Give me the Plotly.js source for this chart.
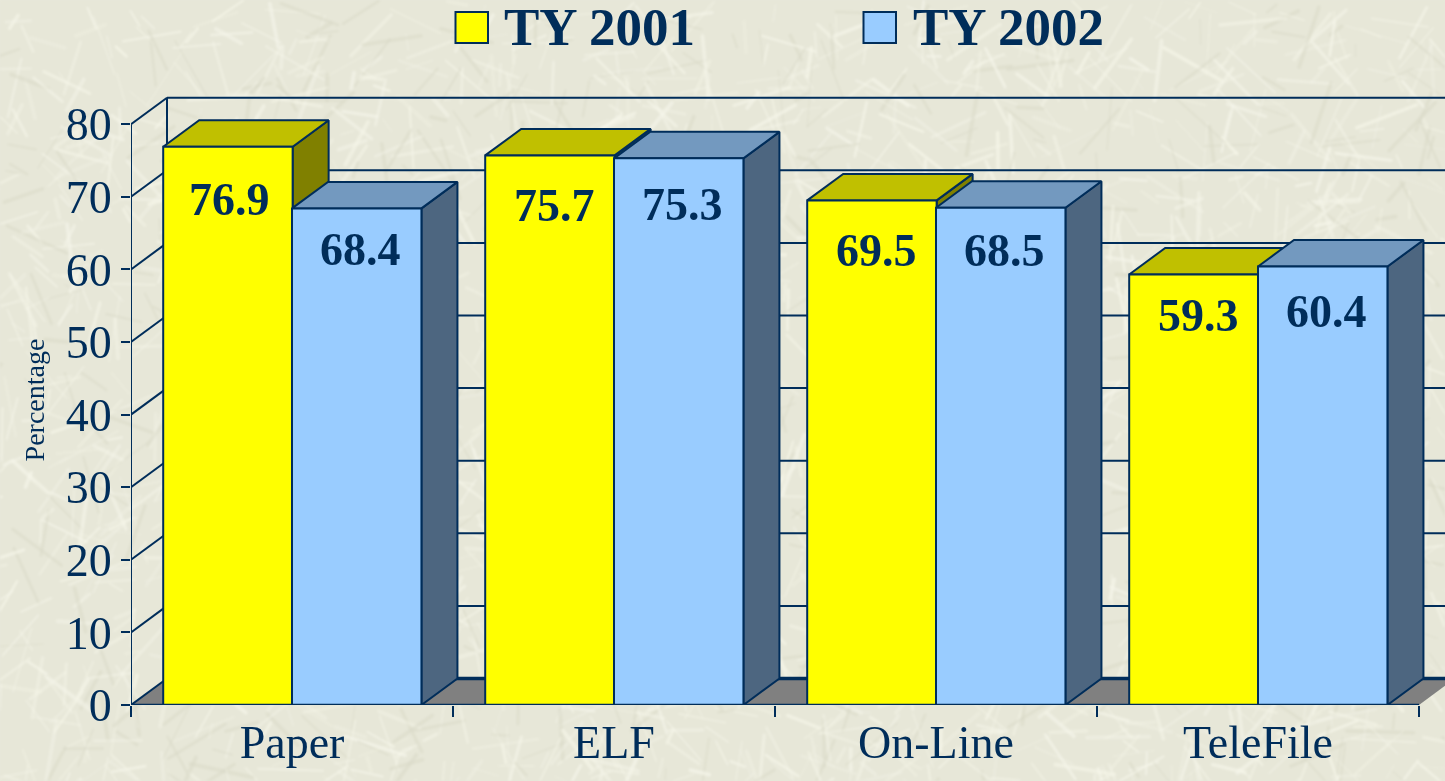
<!DOCTYPE html>
<html>
<head>
<meta charset="utf-8">
<script src="https://cdn.plot.ly/plotly-3.0.1.min.js"></script>
<style>
html,body{margin:0;padding:0;width:1445px;height:781px;overflow:hidden;background:#E8E8DA}
#tex{position:absolute;left:0;top:0;filter:blur(0.8px)}
#chart{position:absolute;left:0;top:0;width:1445px;height:781px}
</style>
</head>
<body>
<canvas id="tex" width="1445" height="781"></canvas>
<div id="chart"></div>
<script>
// ---- chart values ----
const categories = ["Paper", "ELF", "On-Line", "TeleFile"];
const ty2001 = [76.9, 75.7, 69.5, 59.3];
const ty2002 = [68.4, 75.3, 68.5, 60.4];
const yTicks = [0, 10, 20, 30, 40, 50, 60, 70, 80];
const seriesNames = ["TY 2001", "TY 2002"];

// ---- styling / layout settings ----
const NAVY = "#002D5A";
const SERIF = '"Liberation Serif","Times New Roman",serif';
const W = 1445, H = 781;
const M = {l:131, r:0, t:95, b:76};
const pxPerCat = 322, pxPerUnit = 7.26;
const depthX = 36 / pxPerCat, depthY = 26.5 / pxPerUnit;
const xMax = (W - M.l) / pxPerCat;
const yMax = (H - M.t - M.b) / pxPerUnit;
const barW = 0.402;
const labelDrop2001 = [53, 50, 50, 41];
const labelDrop2002 = [41, 46, 43, 45];
const labelShift2001 = [1.5, 5, 5, 5];
const labelShift2002 = [4, 3.5, 4, 4];

// ---- paper-fibre background ----
(function(){
  const c = document.getElementById("tex").getContext("2d");
  c.fillStyle = "#E7E7D8"; c.fillRect(0,0,W,H);
  let s = 12345;
  const r = () => (s = (s * 16807) % 2147483647) / 2147483647;
  c.lineCap = "round";
  for (let i = 0; i < 2600; i++) {
    const x = r()*W, y = r()*H, a = r()*Math.PI, l = 12 + r()*55;
    c.strokeStyle = r() < 0.8 ? "rgba(246,246,234," + (0.25+r()*0.45) + ")" : "rgba(214,214,198,0.45)";
    c.lineWidth = 1 + r()*3;
    c.beginPath(); c.moveTo(x,y); c.lineTo(x+Math.cos(a)*l, y+Math.sin(a)*l); c.stroke();
  }
})();

// ---- 3D faces built from the values ----
function sideFaces(vals, startOffset) {
  const xs = [], ys = [];
  vals.forEach((v,i) => {
    const R = i + startOffset + barW;
    xs.push(R, R+depthX, R+depthX, R, R, null);
    ys.push(v, v+depthY, depthY, 0, v, null);
  });
  return {x:xs, y:ys};
}
function topFaces(vals, startOffset) {
  const xs = [], ys = [];
  vals.forEach((v,i) => {
    const L = i + startOffset, R = L + barW;
    xs.push(L, R, R+depthX, L+depthX, L, null);
    ys.push(v, v, v+depthY, v+depthY, v, null);
  });
  return {x:xs, y:ys};
}
function face(d, fill) {
  return {type:"scatter", mode:"lines", x:d.x, y:d.y, fill:"toself", fillcolor:fill,
          line:{color:NAVY, width:2}, hoverinfo:"skip", showlegend:false};
}
function lines(xs, ys, width) {
  return {type:"scatter", mode:"lines", x:xs, y:ys, line:{color:NAVY, width:width},
          hoverinfo:"skip", showlegend:false, cliponaxis:false};
}

// wall: gridlines on the back wall, and diagonals on the side wall
const gridX = [], gridY = [], diagX = [], diagY = [];
yTicks.forEach(t => {
  gridX.push(depthX, xMax + 1, null); gridY.push(t+depthY, t+depthY, null);
  diagX.push(0, depthX, null);        diagY.push(t, t+depthY, null);
});

const floor = {type:"scatter", mode:"lines", x:[0, depthX, 4+depthX, 4, 0], y:[0, depthY, depthY, 0, 0],
  fill:"toself", fillcolor:"#808080", line:{color:"rgba(0,0,0,0)", width:0}, hoverinfo:"skip", showlegend:false};

const traces = [
  floor,
  lines(gridX, gridY, 2),
  lines(diagX, diagY, 2),
  lines([depthX, depthX], [depthY, 80+depthY], 2),
  lines([0, 0], [0, 80], 2),
  lines([depthX, xMax + 1], [depthY, depthY], 3.5),
  face(sideFaces(ty2001, 0.1), "#808000"),
  face(topFaces(ty2001, 0.1), "#C0C000"),
  face(sideFaces(ty2002, 0.1 + 0.4), "#4D6680"),
  face(topFaces(ty2002, 0.1 + 0.4), "#7399BF"),
  {type:"bar", name:seriesNames[0], x:categories.map((c,i)=>i+0.5), y:ty2001, offset:-0.4, width:barW,
   marker:{color:"#FFFF00", line:{color:NAVY, width:2}}, xaxis:"x2", yaxis:"y2", showlegend:false},
  {type:"bar", name:seriesNames[1], x:categories.map((c,i)=>i+0.5), y:ty2002, offset:0, width:barW,
   marker:{color:"#99CCFF", line:{color:NAVY, width:2}}, xaxis:"x2", yaxis:"y2", showlegend:false},
  Object.assign(lines([0, 4], [0, 0], 2.5), {xaxis:"x2", yaxis:"y2"})
];

// value labels
const annotations = [];
categories.forEach((c,i) => {
  [[ty2001, 0.1, labelDrop2001, labelShift2001], [ty2002, 0.5, labelDrop2002, labelShift2002]].forEach(([vals, off, drop, sh]) => {
    annotations.push({x:i+off+barW/2, y:vals[i], xref:"x", yref:"y", text:vals[i].toFixed(1), showarrow:false,
      xanchor:"center", yanchor:"middle", xshift:sh[i], yshift:-drop[i],
      font:{family:SERIF, size:46, color:NAVY, weight:700}});
  });
});

// legend (large swatches, drawn in page pixels converted to paper units)
const px = x => (x - M.l) / (W - M.l - M.r);
const py = y => 1 - (y - M.t) / (H - M.t - M.b);
const shapes = [
  {type:"rect", xref:"paper", yref:"paper", x0:px(455.5), x1:px(488), y0:py(43), y1:py(12), fillcolor:"#FFFF00", line:{color:NAVY, width:2}},
  {type:"rect", xref:"paper", yref:"paper", x0:px(863.5), x1:px(896), y0:py(43), y1:py(12), fillcolor:"#99CCFF", line:{color:NAVY, width:2}}
];
[[seriesNames[0], 504], [seriesNames[1], 913]].forEach(([t, x]) => {
  annotations.push({xref:"paper", yref:"paper", x:px(x), y:py(27), text:t, showarrow:false,
    xanchor:"left", yanchor:"middle", font:{family:SERIF, size:53, color:NAVY, weight:700}, xshift:-2});
});

const layout = {
  width:W, height:H, margin:M, showlegend:false,
  paper_bgcolor:"rgba(0,0,0,0)", plot_bgcolor:"rgba(0,0,0,0)",
  barmode:"overlay",
  xaxis:{range:[0,xMax], tickmode:"array", tickvals:categories.map((c,i)=>i+0.5), ticktext:categories,
    ticks:"", showgrid:false, zeroline:false, showline:false, ticklabelstandoff:6,
    tickfont:{family:SERIF, size:46, color:NAVY},
    minor:{tick0:0, dtick:1, ticks:"outside", ticklen:11, tickwidth:2, tickcolor:NAVY, showgrid:false}},
  yaxis:{range:[0,yMax], tickmode:"array", tickvals:yTicks, ticktext:yTicks.map(String),
    ticks:"outside", ticklen:9, tickwidth:2, tickcolor:NAVY, showgrid:false, zeroline:false, showline:false,
    tickfont:{family:SERIF, size:46, color:NAVY},
    title:{text:"Percentage", font:{family:SERIF, size:28, color:NAVY}, standoff:12}},
  xaxis2:{overlaying:"x", anchor:"y2", range:[0,xMax], visible:false},
  yaxis2:{overlaying:"y", anchor:"x2", range:[0,yMax], visible:false},
  shapes:shapes, annotations:annotations
};
Plotly.newPlot("chart", traces, layout, {displayModeBar:false, staticPlot:true});
</script>
</body>
</html>
